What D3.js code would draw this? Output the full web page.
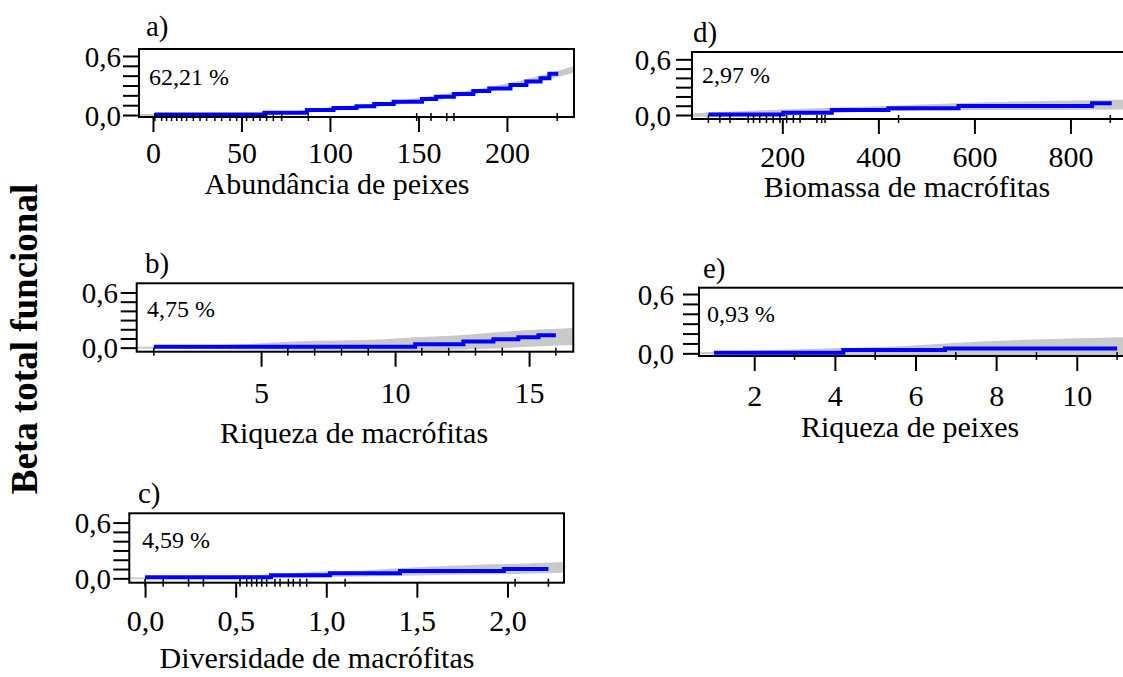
<!DOCTYPE html>
<html>
<head>
<meta charset="utf-8">
<script src="https://cdn.jsdelivr.net/npm/d3@7"></script>
<style>
  body { margin: 0; background: #fff; }
  svg { display: block; font-family: "Liberation Serif", "Times New Roman", serif; }
</style>
</head>
<body>
<div class="container"></div>
<script>
// a) Abundância de peixes
var abundTicks = [0, 50, 100, 150, 200];
var abundFitX = [1, 63, 87, 102, 115, 125, 136, 152, 160, 170, 181, 190, 202, 211, 219, 224, 229];
var abundFitY = [0.005, 0.023, 0.05, 0.071, 0.088, 0.112, 0.135, 0.163, 0.186, 0.214, 0.244, 0.27, 0.305, 0.34, 0.373, 0.42, 0.42];
var abundBandX = [-8, 63, 100, 130, 150, 180, 200, 228, 238];
var abundBandLo = [-0.01, 0.0, 0.04, 0.09, 0.13, 0.205, 0.27, 0.385, 0.43];
var abundBandHi = [0.01, 0.015, 0.08, 0.125, 0.175, 0.255, 0.32, 0.445, 0.5];
var abundRug = [1.1, 4.9, 7.7, 10.5, 13.4, 16.2, 19, 22.8, 26.6, 30.3, 35, 38.8, 43.5, 47.3, 52.9, 56.7, 60.5, 64.2, 68, 72.7, 87.8, 149, 157.1, 166, 170.1, 228.4];

// b) Riqueza de macrófitas
var riqMacTicks = [5, 10, 15];
var riqMacFitX = [1, 10.75, 12.55, 13.67, 14.6, 15.35, 16];
var riqMacFitY = [0.011, 0.037, 0.066, 0.091, 0.113, 0.135, 0.135];
var riqMacBandX = [0.36, 4.4, 6.2, 9.6, 10.75, 12.55, 13.67, 15.0, 16.65];
var riqMacBandLo = [-0.01, -0.02, -0.025, -0.03, -0.03, -0.02, -0.01, 0.01, 0.03];
var riqMacBandHi = [0.01, 0.037, 0.066, 0.091, 0.113, 0.138, 0.164, 0.193, 0.215];
var riqMacRug = [1, 6, 7, 8, 9, 11, 12, 13, 14, 16];

// c) Diversidade de macrófitas
var divMacTicks = [0, 0.5, 1, 1.5, 2];
var divMacFitX = [0, 0.695, 1.02, 1.407, 1.98, 2.226];
var divMacFitY = [0.011, 0.032, 0.054, 0.079, 0.1, 0.1];
var divMacBandX = [-0.087, 0.7, 0.93, 1.2, 1.5, 1.8, 2.1, 2.31];
var divMacBandLo = [-0.01, 0.0, 0.01, 0.02, 0.03, 0.04, 0.05, 0.06];
var divMacBandHi = [0.01, 0.04, 0.07, 0.085, 0.118, 0.143, 0.161, 0.175];
var divMacRug = [0, 0.1, 0.24, 0.322, 0.524, 0.561, 0.588, 0.616, 0.644, 0.671, 0.717, 0.745, 0.791, 0.818, 0.855, 0.892, 1.104, 2.042, 2.226];

// d) Biomassa de macrófitas
var bioTicks = [200, 400, 600, 800];
var bioFitX = [46, 202, 303, 421, 567, 845, 886];
var bioFitY = [0.005, 0.025, 0.054, 0.072, 0.097, 0.126, 0.126];
var bioBandX = [12, 160, 300, 420, 560, 770, 924];
var bioBandLo = [-0.02, -0.01, 0.02, 0.04, 0.05, 0.055, 0.06];
var bioBandHi = [0.02, 0.05, 0.079, 0.097, 0.126, 0.154, 0.165];
var bioRug = [46, 70, 91, 129, 140, 153, 167, 181, 195, 209, 223, 237, 272, 282, 289, 442, 883];

// e) Riqueza de peixes
var riqPeiTicks = [2, 4, 6, 8, 10];
var riqPeiFitX = [1, 4.21, 6.73, 11];
var riqPeiFitY = [0.006, 0.033, 0.05, 0.05];
var riqPeiBandX = [0.63, 3.33, 5.74, 6.73, 8.92, 11.32];
var riqPeiBandLo = [-0.01, -0.02, -0.025, -0.03, -0.03, -0.03];
var riqPeiBandHi = [0.01, 0.045, 0.075, 0.1, 0.14, 0.165];
var riqPeiRug = [3, 5, 7, 9, 11];

var yTicks = [0, 0.1, 0.2, 0.3, 0.4, 0.5, 0.6];
var yLabelTicks = [0, 0.6];

var commaFmt = function(d) { return d3.format(".1f")(d).replace(".", ","); };
var intFmt = d3.format("d");

var panels = [
  {label: "a)", pct: "62,21 %", title: "Abundância de peixes",
   box: [139, 49, 574, 117], xDom: [-7.9, 237.9], yDom: [-0.02, 0.671],
   ticks: abundTicks, fmt: intFmt,
   fitX: abundFitX, fitY: abundFitY, bandX: abundBandX, bandLo: abundBandLo, bandHi: abundBandHi, rug: abundRug,
   labelPos: [146, 36], pctPos: [149, 85], tickOff: 35, titlePos: [337, 194], yLabRight: 121},
  {label: "b)", pct: "4,75 %", title: "Riqueza de macrófitas",
   box: [136.7, 283.3, 573.3, 351.7], xDom: [0.36, 16.65], yDom: [-0.044, 0.70],
   ticks: riqMacTicks, fmt: intFmt,
   fitX: riqMacFitX, fitY: riqMacFitY, bandX: riqMacBandX, bandLo: riqMacBandLo, bandHi: riqMacBandHi, rug: riqMacRug,
   labelPos: [145, 273], pctPos: [147, 317], tickOff: 41, titlePos: [354, 443], yLabRight: 118},
  {label: "c)", pct: "4,59 %", title: "Diversidade de macrófitas",
   box: [129.3, 513.3, 564, 582.7], xDom: [-0.087, 2.312], yDom: [-0.047, 0.70],
   ticks: divMacTicks, fmt: commaFmt,
   fitX: divMacFitX, fitY: divMacFitY, bandX: divMacBandX, bandLo: divMacBandLo, bandHi: divMacBandHi, rug: divMacRug,
   labelPos: [138, 503], pctPos: [142, 548], tickOff: 38, titlePos: [317, 668], yLabRight: 111},
  {label: "d)", pct: "2,97 %", title: "Biomassa de macrófitas",
   box: [692, 52, 1130, 119], xDom: [11.9, 924], yDom: [-0.043, 0.679],
   ticks: bioTicks, fmt: intFmt,
   fitX: bioFitX, fitY: bioFitY, bandX: bioBandX, bandLo: bioBandLo, bandHi: bioBandHi, rug: bioRug,
   labelPos: [693, 42], pctPos: [702, 83], tickOff: 37, titlePos: [907, 197], yLabRight: 671},
  {label: "e)", pct: "0,93 %", title: "Riqueza de peixes",
   box: [699, 287.7, 1130, 356], xDom: [0.63, 11.32], yDom: [-0.027, 0.664],
   ticks: riqPeiTicks, fmt: intFmt,
   fitX: riqPeiFitX, fitY: riqPeiFitY, bandX: riqPeiBandX, bandLo: riqPeiBandLo, bandHi: riqPeiBandHi, rug: riqPeiRug,
   labelPos: [703, 278], pctPos: [707, 322], tickOff: 39, titlePos: [910, 437], yLabRight: 674}
];

var svg = d3.select(".container")
    .append("svg")
    .attr("width", 1123)
    .attr("height", 677);

svg.append("text")
    .attr("transform", "translate(37,339) rotate(-90)")
    .attr("text-anchor", "middle")
    .style("font-size", "37px")
    .style("font-weight", "bold")
    .text("Beta total funcional");

panels.forEach(function(p, i) {
  var L = p.box[0], T = p.box[1], R = p.box[2], B = p.box[3];
  var x = d3.scaleLinear().domain(p.xDom).range([L, R]);
  var y = d3.scaleLinear().domain(p.yDom).range([B, T]);
  var g = svg.append("g");

  g.append("clipPath").attr("id", "clip" + i)
    .append("rect").attr("x", L).attr("y", T).attr("width", R - L).attr("height", B - T);

  var band = p.bandX.map(function(v, k) { return {x: v, lo: p.bandLo[k], hi: p.bandHi[k]}; });
  var fit = p.fitX.map(function(v, k) { return {x: v, y: p.fitY[k]}; });

  g.append("path")
      .datum(band)
      .attr("clip-path", "url(#clip" + i + ")")
      .attr("fill", "#c9c9c9")
      .attr("d", d3.area()
        .curve(d3.curveMonotoneX)
        .x(function(d) { return x(d.x); })
        .y0(function(d) { return y(d.lo); })
        .y1(function(d) { return y(d.hi); }));

  g.append("path")
      .datum(fit)
      .attr("clip-path", "url(#clip" + i + ")")
      .attr("fill", "none")
      .attr("stroke", "#0000ff")
      .attr("stroke-width", 4)
      .attr("d", d3.line()
        .curve(d3.curveStepAfter)
        .x(function(d) { return x(d.x); })
        .y(function(d) { return y(d.y); }));

  g.append("rect")
      .attr("x", L).attr("y", T).attr("width", R - L).attr("height", B - T)
      .attr("fill", "none").attr("stroke", "#000").attr("stroke-width", 2);

  g.selectAll(".rug").data(p.rug).enter().append("line")
      .attr("x1", function(d) { return x(d); }).attr("x2", function(d) { return x(d); })
      .attr("y1", B - 4).attr("y2", B + 4)
      .attr("stroke", "#000").attr("stroke-width", 1.5);

  // x axis
  var xa = g.append("g")
      .attr("transform", "translate(0," + B + ")")
      .call(d3.axisBottom(x).tickValues(p.ticks).tickSize(15).tickFormat(p.fmt));
  xa.select(".domain").remove();
  xa.selectAll("line").attr("stroke", "#000").attr("stroke-width", 2);
  xa.selectAll("text")
      .attr("y", p.tickOff).attr("dy", "0.35em")
      .attr("fill", "#000")
      .style("font-size", "30px")
      .style("font-family", "Liberation Serif, Times New Roman, serif");

  // y axis
  var ya = g.append("g")
      .attr("transform", "translate(" + L + ",0)")
      .call(d3.axisLeft(y).tickValues(yTicks).tickSize(16)
        .tickFormat(function(d) { return yLabelTicks.indexOf(d) >= 0 ? commaFmt(d) : ""; }));
  ya.select(".domain").remove();
  ya.selectAll("line").attr("stroke", "#000").attr("stroke-width", 2);
  ya.selectAll("text")
      .attr("x", p.yLabRight - L).attr("dy", "0.35em")
      .attr("fill", "#000")
      .style("font-size", "29px")
      .style("font-family", "Liberation Serif, Times New Roman, serif");

  g.append("text")
      .attr("x", p.labelPos[0]).attr("y", p.labelPos[1])
      .style("font-size", "29px")
      .text(p.label);

  g.append("text")
      .attr("x", p.pctPos[0]).attr("y", p.pctPos[1])
      .style("font-size", "24px")
      .text(p.pct);

  g.append("text")
      .attr("x", p.titlePos[0]).attr("y", p.titlePos[1])
      .attr("text-anchor", "middle")
      .style("font-size", "30px")
      .text(p.title);
});
</script>
</body>
</html>
